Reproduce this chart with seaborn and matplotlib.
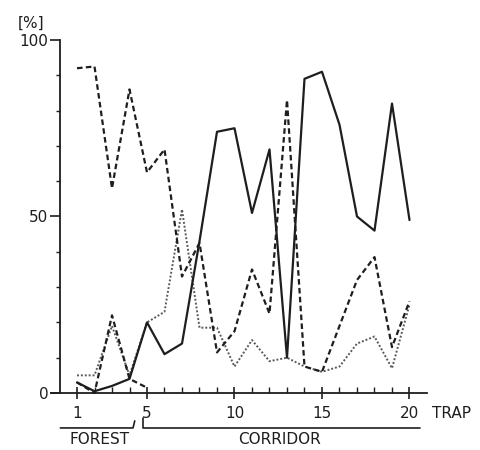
import numpy as np
import pandas as pd
import matplotlib
matplotlib.use("Agg")
import matplotlib.pyplot as plt
import matplotlib.transforms as mtransforms
import seaborn as sns

# ---------------- data ----------------
trap = list(range(1, 21))
solid_pct = [3, 0.5, 2, 4, 20, 11, 14, 43, 74, 75, 51, 69, 10, 89, 91, 76, 50, 46, 82, 49]
dashed_pct = [92, 92.5, 58, 86, 62.5, 69, 33, 42.5, 11.5, 17.5, 35, 22.5, 83, 7.5, 6, 19, 32, 38.5, 13, 26]
dotted_pct = [5, 5, 19, 5, 20, 23, 52, 18.5, 18.5, 7.5, 15, 9, 10, 7.5, 6, 7.5, 14, 16, 7, 25]
forest_trap = [1, 2, 3, 4, 5]
forest_pct = [3, 0, 22, 4, 1.5]

xtick_vals = [1, 5, 10, 15, 20]
ytick_vals = [0, 50, 100]

# ---------------- figure ----------------
sns.set_style("white")
plt.rcParams['font.family'] = ['DejaVu Sans']

fig = plt.figure(figsize=(4.81, 4.50), dpi=100)
ax = fig.add_axes([50.75 / 481, (450 - 393) / 450, 376.25 / 481, 353 / 450])

ink = "#1e1e1e"
sns.lineplot(x=trap, y=dotted_pct, ax=ax, color="#5a5a5a", lw=1.4,
             linestyle=(0, (1, 1)), clip_on=False)
sns.lineplot(x=forest_trap, y=forest_pct, ax=ax, color=ink, lw=1.6,
             linestyle=(0, (2.5, 1.5)), clip_on=False)
sns.lineplot(x=trap, y=dashed_pct, ax=ax, color=ink, lw=1.6,
             linestyle=(0, (2.5, 1.5)), clip_on=False)
sns.lineplot(x=trap, y=solid_pct, ax=ax, color=ink, lw=1.6, clip_on=False)

ax.set_xlim(-0.5, 21)
ax.set_ylim(0, 100)

for s in ["top", "right"]:
    ax.spines[s].set_visible(False)
ax.spines["left"].set_position(("data", 0))
ax.spines["left"].set_bounds(0, 100)
for s in ["left", "bottom"]:
    ax.spines[s].set_color(ink)
    ax.spines[s].set_linewidth(1.3)

ax.set_xticks(xtick_vals)
ax.set_xticklabels([str(v) for v in xtick_vals])
ax.set_xticks(trap, minor=True)
ax.set_yticks(ytick_vals)
ax.set_yticklabels([str(v) for v in ytick_vals])
ax.set_yticks(np.arange(0, 101, 10), minor=True)

ax.tick_params(which="both", bottom=True, left=True)
ax.tick_params(axis="x", which="major", direction="inout", length=9, width=1.2,
               color=ink, labelsize=11, pad=5, labelcolor=ink)
ax.tick_params(axis="x", which="minor", direction="in", length=4, width=1.0, color=ink)
ax.tick_params(axis="y", which="major", direction="out", length=7, width=1.2,
               color=ink, labelsize=11, pad=1, labelcolor=ink)
ax.tick_params(axis="y", which="minor", direction="out", length=3, width=1.0, color=ink)

ax.set_xlabel("")
ax.set_ylabel("")

# axis captions
trans = mtransforms.blended_transform_factory(ax.transData, ax.transAxes)
ax.text(21.3, -0.058, "TRAP", transform=trans, ha="left", va="center",
        fontsize=11, color=ink)
fig.text(31 / 481, 1 - 23 / 450, "[%]", ha="center", va="center",
         fontsize=11, color=ink)

# region brackets
yb = -0.099
ax.plot([0.05, 4.2, 4.3], [yb, yb, yb + 0.02], transform=trans, color=ink,
        lw=1.2, clip_on=False)
ax.plot([4.75, 4.75, 20.6], [yb + 0.028, yb, yb], transform=trans, color=ink,
        lw=1.2, clip_on=False)
ax.text(2.3, -0.133, "FOREST", transform=trans, ha="center", va="center",
        fontsize=11, color=ink)
ax.text(12.6, -0.133, "CORRIDOR", transform=trans, ha="center", va="center",
        fontsize=11, color=ink)

fig.savefig("out.png", dpi=100)
